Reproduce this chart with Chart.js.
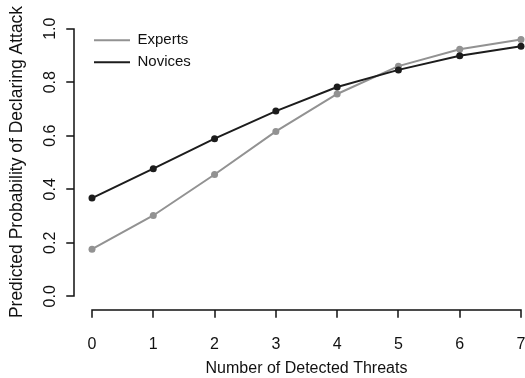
<!DOCTYPE html>
<html><head><meta charset="utf-8">
<script src="https://cdn.jsdelivr.net/npm/chart.js@4"></script>
<style>html,body{margin:0;padding:0;background:#fff}</style>
</head><body>
<canvas id="c" width="525" height="378"></canvas>
<script>
const THREATS = [0, 1, 2, 3, 4, 5, 6, 7];
const EXPERTS = [0.176, 0.302, 0.455, 0.616, 0.756, 0.860, 0.923, 0.960];
const NOVICES = [0.367, 0.477, 0.589, 0.692, 0.782, 0.846, 0.899, 0.934];
const X_TICKS = [0, 1, 2, 3, 4, 5, 6, 7];
const Y_TICKS = [0, 0.2, 0.4, 0.6, 0.8, 1.0];
const SERIES_NAMES = ['Experts', 'Novices'];
const X_TITLE = 'Number of Detected Threats';
const Y_TITLE = 'Predicted Probability of Declaring Attack';

Chart.defaults.font.family = '"Liberation Sans", Arial, Helvetica, sans-serif';
Chart.defaults.color = '#111';

const rAxes = {
  id: 'rAxes',
  afterDraw(chart) {
    const {ctx, scales: {x, y}} = chart;
    const y0 = Math.round(y.getPixelForValue(Y_TICKS[0]));
    const y1 = Math.round(y.getPixelForValue(Y_TICKS[Y_TICKS.length - 1]));
    const x0 = Math.round(x.getPixelForValue(X_TICKS[0]));
    const x1 = Math.round(x.getPixelForValue(X_TICKS[X_TICKS.length - 1]));
    const ax = x0 - 18;
    const ay = y0 + 14;
    ctx.save();
    ctx.strokeStyle = '#111';
    ctx.lineWidth = 1.5;
    ctx.lineCap = 'square';
    ctx.beginPath();
    ctx.moveTo(ax, y0); ctx.lineTo(ax, y1);
    Y_TICKS.forEach(v => { const p = Math.round(y.getPixelForValue(v)); ctx.moveTo(ax, p); ctx.lineTo(ax - 7, p); });
    ctx.moveTo(x0, ay); ctx.lineTo(x1, ay);
    X_TICKS.forEach(v => { const p = Math.round(x.getPixelForValue(v)); ctx.moveTo(p, ay); ctx.lineTo(p, ay + 7); });
    ctx.stroke();
    ctx.restore();
  }
};

const legendPlace = {
  id: 'legendPlace',
  afterLayout(chart) {
    const lg = chart.legend;
    if (!lg) return;
    const dy = chart.scales.y.getPixelForValue(Y_TICKS[Y_TICKS.length - 1]) - 3 - lg.top;
    const dx = -5;
    lg.top += dy; lg.bottom += dy; lg.left += dx; lg.right += dx;
  }
};

const toPts = arr => THREATS.map((t, i) => ({x: t, y: arr[i]}));

new Chart(document.getElementById('c'), {
  type: 'line',
  data: {
    datasets: [
      {label: SERIES_NAMES[0], data: toPts(EXPERTS), borderColor: '#929292', backgroundColor: '#929292',
       pointBackgroundColor: '#929292', pointBorderColor: '#929292', pointRadius: 3.5, pointBorderWidth: 0,
       borderWidth: 2, tension: 0, clip: false, order: 2},
      {label: SERIES_NAMES[1], data: toPts(NOVICES), borderColor: '#1c1c1c', backgroundColor: '#1c1c1c',
       pointBackgroundColor: '#1c1c1c', pointBorderColor: '#1c1c1c', pointRadius: 3.5, pointBorderWidth: 0,
       borderWidth: 2, tension: 0, clip: false, order: 1}
    ]
  },
  options: {
    responsive: false,
    animation: false,
    layout: {padding: {left: 0, right: 2, top: 0, bottom: 0}},
    plugins: {
      tooltip: {enabled: false},
      legend: {
        position: 'chartArea',
        align: 'start',
        labels: {
          usePointStyle: true, pointStyle: 'line', pointStyleWidth: 36, padding: 7,
          font: {size: 15}, color: '#111',
          generateLabels: chart => {
            const items = Chart.defaults.plugins.legend.labels.generateLabels(chart);
            items.forEach(it => {
              const ds = chart.data.datasets[it.datasetIndex];
              it.lineWidth = ds.borderWidth;
              it.strokeStyle = ds.borderColor;
            });
            return items;
          },
          sort: (a, b) => a.datasetIndex - b.datasetIndex
        }
      }
    },
    scales: {
      x: {
        type: 'linear', position: 'bottom', min: 0, max: 7,
        afterBuildTicks: s => { s.ticks = X_TICKS.map(v => ({value: v})); },
        afterFit: s => { s.height = 58; s.paddingLeft = 0; s.paddingRight = 0; },
        grid: {display: false}, border: {display: false},
        ticks: {padding: 7, font: {size: 16}, color: '#111', maxRotation: 0, autoSkip: false},
        title: {display: true, text: X_TITLE, font: {size: 16}, color: '#111', padding: {top: 0, bottom: 0}}
      },
      y: {
        type: 'linear', position: 'left', min: -0.08856, max: 1.09225,
        afterBuildTicks: s => { s.ticks = Y_TICKS.map(v => ({value: v})); },
        afterFit: s => { s.width = 92; s.paddingTop = 0; s.paddingBottom = 0; },
        grid: {display: false}, border: {display: false},
        ticks: {padding: 22, font: {size: 16}, color: '#111', minRotation: 90, maxRotation: 90,
                crossAlign: 'center', autoSkip: false, callback: v => Number(v).toFixed(1)},
        title: {display: true, text: Y_TITLE, font: {size: 17.5}, color: '#111', padding: {top: 6.5, bottom: 0}}
      }
    }
  },
  plugins: [rAxes, legendPlace]
});
</script>
</body></html>
